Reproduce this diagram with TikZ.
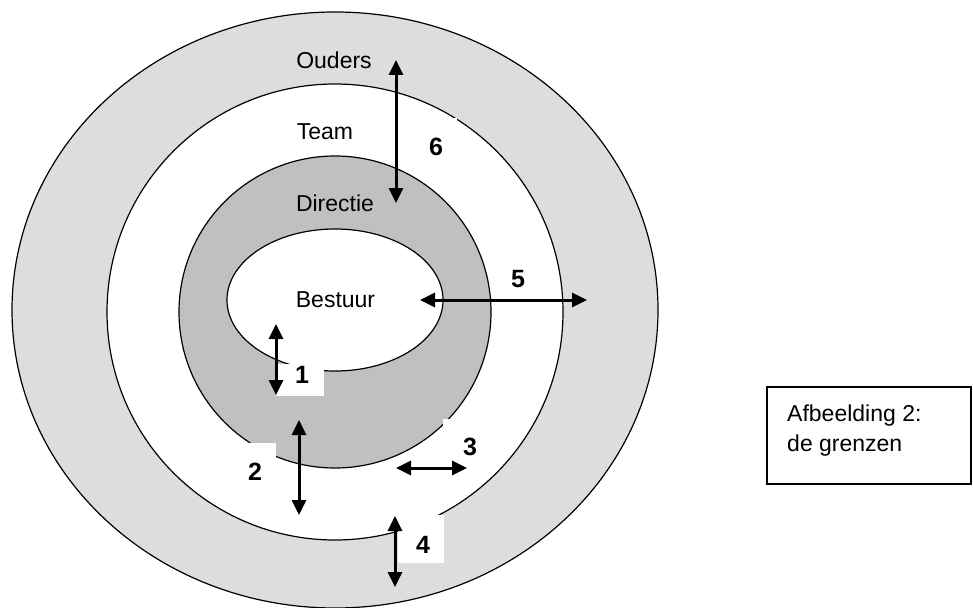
\documentclass[tikz,border=0pt]{standalone}
\usepackage{fontspec}
\setmainfont{Liberation Sans}
\usepackage{xcolor}
\usetikzlibrary{arrows.meta,positioning}
\definecolor{ringlicht}{HTML}{DDDDDD}
\definecolor{ringdonker}{HTML}{C0C0C0}

\begin{document}
\begin{tikzpicture}[x=1pt,y=-1pt,
	ring/.style={draw=black,line width=1.2pt},
	pijl/.style={<->,>={Triangle[length=15pt,width=14pt]},line width=3pt},
	wit/.style={fill=white,draw=none},
	naam/.style={font=\fontsize{23}{27}\selectfont},
	nummer/.style={font=\fontsize{25}{29}\selectfont\bfseries}]
			\useasboundingbox (0,0) rectangle (973,607);
			% ringen
			\draw[ring,fill=ringlicht] (335,310) ellipse [x radius=323,y radius=298];
			\draw[ring,fill=white] (335,312) circle [radius=228];
			\draw[ring,fill=ringdonker] (335,312) circle [radius=156];
			\draw[ring,fill=white] (335,300) ellipse [x radius=108,y radius=71];
			% witte vlakjes achter de nummers
			\fill[wit] (276,364) rectangle (324,396);
			\fill[wit] (236,443) rectangle (276,500);
			\fill[wit] (443,419) rectangle (480,460);
			\fill[wit] (398,515) rectangle (444,563);
			\fill[wit] (420,118) rectangle (457,165);

			\node[naam] (ouders) at (334,60) {Ouders};
			\node[naam] (team) at (325,132) {Team};
			\node[naam] (directie) at (335,203) {Directie};
			\node[naam] (bestuur) at (335.5,300) {Bestuur};

			\node[nummer] (n1) at (302,375) {1};
			\node[nummer] (n2) at (255,472) {2};
			\node[nummer] (n3) at (470,447) {3};
			\node[nummer] (n4) at (423,545) {4};
			\node[nummer] (n5) at (518,279) {5};
			\node[nummer] (n6) at (436,147) {6};

			\coordinate (p1a) at (276,324); \coordinate (p1b) at (276,395);
			\coordinate (p2a) at (299,420); \coordinate (p2b) at (299,515);
			\coordinate (p3a) at (396,468); \coordinate (p3b) at (467,468);
			\coordinate (p4a) at (395,516); \coordinate (p4b) at (395,587);
			\coordinate (p5a) at (420,300); \coordinate (p5b) at (587,300);
			\coordinate (p6a) at (396,60);  \coordinate (p6b) at (396,203);

			\draw[pijl] (p1a) -- (p1b);
			\draw[pijl] (p2a) -- (p2b);
			\draw[pijl] (p3a) -- (p3b);
			\draw[pijl] (p4a) -- (p4b);
			\draw[pijl] (p5a) -- (p5b);
			\draw[pijl] (p6a) -- (p6b);

			% bijschrift
			\node[draw,line width=1.2pt,minimum width=204pt,minimum height=97pt] (kader) at (869,435.5) {};
			\node[naam,inner sep=0pt,anchor=base west] (afb) at (787,421.7) {Afbeelding 2:};
			\node[naam,inner sep=0pt,anchor=base west] (grenzen) at (787,451.7) {de grenzen};
\end{tikzpicture}
\end{document}
